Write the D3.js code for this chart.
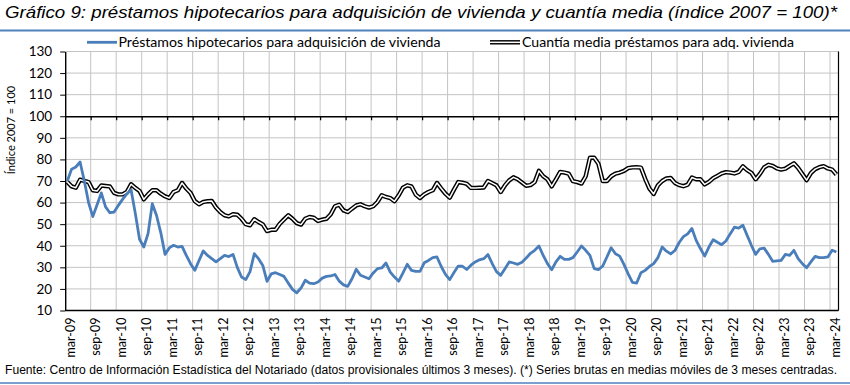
<!DOCTYPE html>
<html>
<head>
<meta charset="utf-8">
<script src="https://cdn.jsdelivr.net/npm/d3@7"></script>
<style>
  body { margin: 0; background: #fff; }
  svg { display: block; }
  .tick text { font-family: Lato, "Liberation Sans", sans-serif; }
</style>
</head>
<body>
<div id="chart"></div>
<script>
// data, monthly mar-09 ... apr-24
const startMonth = new Date(2009, 2, 1);
const nMonths = 182;
const tickLabels = ["mar-09","sep-09","mar-10","sep-10","mar-11","sep-11","mar-12","sep-12","mar-13","sep-13",
  "mar-14","sep-14","mar-15","sep-15","mar-16","sep-16","mar-17","sep-17","mar-18","sep-18",
  "mar-19","sep-19","mar-20","sep-20","mar-21","sep-21","mar-22","sep-22","mar-23","sep-23","mar-24"];
const yTicks = [10,20,30,40,50,60,70,80,90,100,110,120,130];

const prestamos = [
  70, 75.5, 76.5, 78.8, 70, 60, 53.5, 59, 64.5, 58, 55.3, 55.6, 58.7, 61.5, 64, 66, 55, 43, 39.4, 45.6,
  59.5, 54, 46, 36, 39, 40.2, 39.4, 39.7, 35.5, 31.7, 28.6, 33.2, 37.6, 35.5, 34, 32.5, 34, 35.5, 35, 36,
  30, 25.5, 24.3,
  28, 36.3, 34, 30.9, 23.5, 27, 27.5, 26.7, 25.8, 22.7, 19.8, 18.2, 20.4, 24, 22.7, 22.4, 23.2, 25, 25.8,
  26, 26.7, 23.6, 21.9, 21.2, 24.7, 29.1, 26.3, 25.5, 24.7, 27.4, 29.4, 29.7, 32, 27.8, 25.5, 23.6, 27.4,
  31.4, 28.6, 28.1, 28.1, 32.1, 33.2, 34.5, 34.8, 30.4, 26.7, 24.3,
  27.6, 30.6, 30.5, 29, 31, 32.5, 33.5, 34, 35.9, 31.7, 28, 26.3, 29.4, 32.5, 32, 31.4, 32.4, 34.3, 36.5,
  37.9, 39.9, 35.5, 31.7, 28.9, 32.5, 35.1, 33.7, 33.7, 34.5, 37.1, 39.9, 37.9, 35.5, 29.4, 28.9, 30.6,
  34.8, 39.1, 36.3, 35.2, 31.4, 27,
  23, 22.7, 27.5, 28.6, 30.4, 31.7, 34.5, 39.4, 37.5, 36.2, 37.8, 41.5, 44.2, 45.5, 48, 42.5, 38.7, 35.2,
  39.4, 42.8, 41.6, 40.5, 42.2, 45.5, 48.6, 48.2, 49.5, 44.8, 40.2, 36, 38.6, 38.9, 36, 32.8, 33, 33.2,
  36, 35.5, 37.9, 34, 31.7, 29.8, 32.5, 35.1, 34.5, 34.5, 34.8, 37.9, 37.1
];

const cuantia = [
  69.5, 67.5, 66.9, 70.6, 70, 69.5, 65.7, 65.4, 67.9, 67.7, 67.5, 64.5, 63.8, 63.8, 64.9, 68.5, 66.8, 65.4,
  61.5, 63.8, 65.7, 65.7, 64.1, 62.9, 62.1, 64.9, 65.7, 69.1, 66.5, 64.5, 60.7, 59.2, 60.3, 60.6, 60.7,
  57.7, 55.6, 54.1, 53.6, 54.6, 54.4, 52.5, 50,
  49.5, 52.3, 51, 49.9, 46.8, 47.4, 47.4, 50.2, 52.2, 54.1, 52.5, 50.5, 49.8, 52.5, 53.3, 53, 51.5, 52.1,
  52.5, 54.6, 58.3, 59, 56.4, 55.6, 57.2, 58.7, 59.2, 58.3, 57.7, 58.3, 60.3, 63.4, 62.6, 62.1, 60.6,
  63.4, 66.9, 68, 67.5, 63.7, 62.1, 63.8, 64.9, 65.7, 69.1, 66.5, 64.1, 62.3,
  66, 69.5, 69.2, 68.7, 66.8, 66.8, 66.9, 67, 70, 69, 68, 64.9, 68, 70.3, 71.7, 70.8, 69.3, 67.8, 68.1,
  69.5, 74.7, 72.2, 70.8, 67.5, 70.8, 74.2, 73.9, 73.4, 69.9, 69.5, 68.8, 72.2, 80.8, 80.8, 78, 70, 70,
  72.2, 73.4, 73.9, 74.7, 76,
  76.3, 76.4, 76.2, 71, 66.5, 64, 68, 70, 71.2, 71.4, 69.1, 68.1, 67.6, 68.3, 71.6, 70.8, 70.8, 68.4,
  69.6, 71.3, 72.4, 73.5, 74.1, 73.9, 73.5, 74.2, 76.8, 75, 73.8, 70.8, 73.3, 76.3, 77.5, 77, 75.8,
  75.3, 75.7, 77, 78.2, 76, 73.2, 70.4, 73.7, 75.5, 76.4, 76.9, 75.8, 75.3, 73
];

const months = d3.range(nMonths).map(i => d3.timeMonth.offset(startMonth, i));

const W = 850, H = 385;
const plotLeft = 65.2, plotRight = 838.5, plotTop = 51.5, plotBottom = 310.5;
const blue = "#4a7ebb";
const gridCol = "#c4c4c4";

const svg = d3.select("#chart").append("svg")
  .attr("width", W).attr("height", H);

const x = d3.scaleBand().domain(d3.range(nMonths)).range([plotLeft, plotRight]).padding(0);
const xb = d3.scaleLinear().domain([0, nMonths]).range([plotLeft, plotRight]); // category boundaries
const y = d3.scaleLinear().domain([10, 130]).range([plotBottom, plotTop]);
const cx = i => x(i) + x.bandwidth() / 2;

// title
svg.append("text")
  .attr("x", 5).attr("y", 18)
  .attr("textLength", 832).attr("lengthAdjust", "spacingAndGlyphs")
  .style("font-family", "'Liberation Sans Narrow', 'Liberation Sans', sans-serif")
  .style("font-style", "italic")
  .style("font-size", "17px")
  .text("Gráfico 9: préstamos hipotecarios para adquisición de vivienda y cuantía media (índice 2007 = 100)*");

svg.append("line")
  .attr("x1", 0).attr("x2", W).attr("y1", 30.5).attr("y2", 30.5)
  .attr("stroke", "#4f81bd").attr("stroke-width", 2);

// gridlines
svg.append("g").selectAll("line")
  .data(yTicks.filter(v => v !== 10 && v !== 100))
  .join("line")
  .attr("x1", plotLeft).attr("x2", plotRight)
  .attr("y1", d => y(d)).attr("y2", d => y(d))
  .attr("stroke", gridCol).attr("stroke-width", 1);

svg.append("g").selectAll("line")
  .data(d3.range(6, nMonths, 6))
  .join("line")
  .attr("x1", d => xb(d)).attr("x2", d => xb(d))
  .attr("y1", plotTop).attr("y2", plotBottom)
  .attr("stroke", gridCol).attr("stroke-width", 1);

// axis at 100 with ticks pointing down
svg.append("g")
  .attr("transform", "translate(0," + y(100) + ")")
  .call(d3.axisBottom(xb).tickValues(d3.range(6, nMonths, 6)).tickSize(4).tickFormat("").tickSizeOuter(0))
  .call(g => g.select(".domain").attr("stroke-width", 1.4))
  .call(g => g.selectAll(".tick line").attr("stroke-width", 1.2));

// frame: bottom and right
svg.append("line").attr("x1", plotLeft).attr("x2", plotRight).attr("y1", plotBottom).attr("y2", plotBottom)
  .attr("stroke", "#000").attr("stroke-width", 1.4);
svg.append("line").attr("x1", plotRight).attr("x2", plotRight).attr("y1", plotTop).attr("y2", plotBottom)
  .attr("stroke", "#000").attr("stroke-width", 1.2);

// y axis
svg.append("g")
  .attr("transform", "translate(" + plotLeft + ",0)")
  .call(d3.axisLeft(y).tickValues(yTicks).tickSize(5).tickPadding(8).tickSizeOuter(0))
  .call(g => g.select(".domain").attr("stroke-width", 1.4))
  .call(g => g.selectAll(".tick text").style("font-size", "13.5px").attr("fill", "#000"));

svg.append("text")
  .attr("transform", "translate(12,130) rotate(-90)")
  .attr("text-anchor", "middle")
  .attr("dominant-baseline", "middle")
  .style("font-family", "Lato, 'Liberation Sans', sans-serif")
  .style("font-size", "11px")
  .text("Índice 2007 = 100");

// x labels at the bottom
svg.append("g").selectAll("text")
  .data(tickLabels)
  .join("text")
  .attr("transform", (d, k) => "translate(" + (cx(k * 6) + 3) + "," + (plotBottom + 7) + ") rotate(-90)")
  .attr("text-anchor", "end")
  .attr("dy", "0.35em")
  .style("font-family", "Lato, 'Liberation Sans', sans-serif")
  .style("font-size", "12.5px")
  .text(d => d);

// series
const line = d3.line()
  .x((d, i) => cx(i))
  .y(d => y(d));

svg.append("path").datum(cuantia)
  .attr("d", line).attr("fill", "none")
  .attr("stroke", "#000").attr("stroke-width", 4.4).attr("stroke-linejoin", "round");
svg.append("path").datum(cuantia)
  .attr("d", line).attr("fill", "none")
  .attr("stroke", "#fff").attr("stroke-width", 1.5).attr("stroke-linejoin", "round");

svg.append("path").datum(prestamos)
  .attr("d", line).attr("fill", "none")
  .attr("stroke", blue).attr("stroke-width", 2.8).attr("stroke-linejoin", "round");

// legend
const lg = svg.append("g").style("font-family", "Lato, 'Liberation Sans', sans-serif").style("font-size", "13.5px");
lg.append("line").attr("x1", 87).attr("x2", 117).attr("y1", 42.3).attr("y2", 42.3)
  .attr("stroke", blue).attr("stroke-width", 2.8);
lg.append("text").attr("x", 118.5).attr("y", 47)
  .attr("textLength", 322).attr("lengthAdjust", "spacingAndGlyphs")
  .text("Préstamos hipotecarios para adquisición de vivienda");
lg.append("line").attr("x1", 490).attr("x2", 520).attr("y1", 42.3).attr("y2", 42.3)
  .attr("stroke", "#000").attr("stroke-width", 4.4);
lg.append("line").attr("x1", 490).attr("x2", 520).attr("y1", 42.3).attr("y2", 42.3)
  .attr("stroke", "#fff").attr("stroke-width", 1.5);
lg.append("text").attr("x", 522).attr("y", 47)
  .attr("textLength", 272).attr("lengthAdjust", "spacingAndGlyphs")
  .text("Cuantía media préstamos para adq. vivienda");

// footer
svg.append("text")
  .attr("x", 5).attr("y", 374)
  .attr("textLength", 832).attr("lengthAdjust", "spacingAndGlyphs")
  .style("font-family", "'Liberation Sans Narrow', 'Liberation Sans', sans-serif")
  .style("font-size", "12px")
  .text("Fuente: Centro de Información Estadística del Notariado (datos provisionales últimos 3 meses). (*) Series brutas en medias móviles de 3 meses centradas.");

svg.append("line")
  .attr("x1", 0).attr("x2", W).attr("y1", 383).attr("y2", 383)
  .attr("stroke", "#4f81bd").attr("stroke-width", 1.5);
</script>
</body>
</html>
